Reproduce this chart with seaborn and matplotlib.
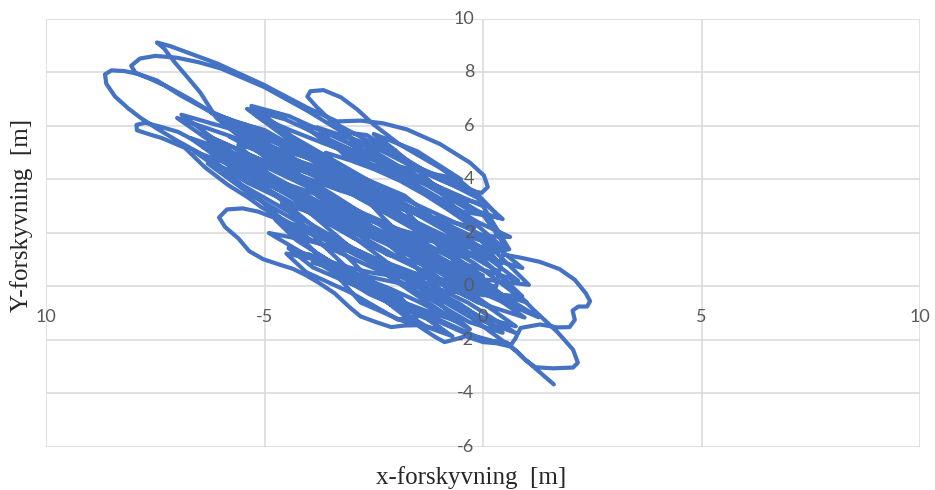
import pandas as pd
import seaborn as sns
import matplotlib.pyplot as plt

# displacement trace, in drawing order: (x [m], y [m])
tail_start = [
    (1.62, -3.66), (1.40, -3.35), (1.18, -3.04), (0.97, -2.74), (0.80, -2.46),
    (0.62, -2.24), (0.30, -2.12), (0.00, -2.08), (-0.40, -1.86), (-0.65, -1.98),
    (-0.88, -2.08), (-1.10, -1.88), (-1.50, -1.45), (-1.80, -1.46), (-2.10, -1.52),
    (-2.45, -1.33), (-2.80, -1.12), (-3.05, -0.78), (-3.40, -0.25), (-3.75, 0.13),
    (-4.05, 0.42), (-4.35, 0.66), (-4.70, 0.84), (-5.03, 1.02), (-5.35, 1.32),
    (-5.60, 1.80), (-5.90, 2.22), (-6.04, 2.58), (-5.86, 2.88), (-5.50, 2.92),
    (-5.15, 2.80), (-4.70, 2.52),
]
core_1 = [
    (-3.93, 1.74), (-2.13, 0.41), (-0.32, -1.33), (0.45, -1.73),
    (-0.56, -0.62), (-2.93, 1.19), (-5.29, 3.40), (-6.30, 4.60),
    (-5.22, 4.04), (-2.70, 2.10), (-0.18, -0.25), (0.90, -0.37),
    (-0.27, 1.43), (-3.00, 3.55), (-5.75, 6.09),
]
lobe_left = [
    (-6.93, 7.15), (-7.46, 7.70), (-7.90, 7.95), (-8.20, 8.05), (-8.50, 8.08),
    (-8.65, 7.93), (-8.62, 7.58), (-8.42, 7.10), (-8.12, 6.66), (-7.85, 6.32),
    (-7.46, 5.90), (-7.00, 5.45), (-6.50, 5.00),
]
core_2 = [
    (-5.38, 3.87), (-2.75, 1.84), (-0.13, -0.59), (0.95, -1.16),
    (-0.24, 0.20), (-3.03, 2.38), (-5.81, 4.94), (-7.00, 6.30),
    (-5.80, 5.63), (-3.00, 3.45), (-0.20, 0.87), (1.00, -0.60),
    (-0.21, 0.03), (-2.99, 2.19), (-5.77, 4.75),
]
lobe_low = [
    (-6.98, 5.78), (-7.40, 5.98), (-7.73, 6.12), (-7.93, 6.04), (-7.92, 5.84),
    (-7.62, 5.68), (-7.35, 5.55), (-6.82, 5.18), (-6.36, 4.45), (-5.84, 3.80),
    (-5.38, 3.33), (-5.06, 2.95),
]
core_3 = [
    (-4.21, 2.18), (-2.23, 0.70), (-0.25, -1.19), (0.60, -2.21),
    (-0.17, -1.86), (-1.98, -0.52), (-3.78, 1.21), (-4.55, 2.22),
    (-3.75, 1.89), (-1.90, 0.52), (-0.05, -1.26), (0.75, -1.74),
    (-0.35, -0.60), (-2.93, 1.39), (-5.50, 3.78), (-6.60, 5.04),
    (-5.42, 4.35), (-2.67, 2.22), (0.08, -0.32), (1.27, -1.15),
    (0.04, 0.07), (-2.82, 2.30), (-5.67, 4.92), (-6.90, 6.42),
    (-5.73, 5.87), (-3.00, 3.75), (-0.27, 1.23), (0.90, 0.69),
    (-0.03, 1.93), (-2.20, 3.57), (-4.37, 5.61), (-5.30, 6.75),
    (-4.44, 6.37), (-2.43, 4.87), (-0.41, 2.95), (0.45, 2.52),
    (-0.10, 3.29), (-1.30, 4.30), (-2.50, 5.33),
]
loop_top = [
    (-3.05, 5.80), (-3.45, 6.15), (-3.80, 6.70), (-4.02, 7.10), (-3.95, 7.30),
    (-3.65, 7.34), (-3.25, 7.07), (-2.88, 6.62), (-2.50, 6.05), (-1.90, 5.30),
    (-1.00, 4.45), (-0.45, 3.85), (-0.10, 3.35), (-0.03, 3.10),
]
core_4 = [
    (-0.60, 3.31), (-2.00, 4.30), (-3.40, 5.69), (-4.20, 6.12),
    (-3.48, 5.26), (-1.79, 4.02), (-0.10, 2.39), (0.62, 1.85),
    (-0.37, 1.91), (-2.69, 3.69), (-5.00, 5.85), (-6.00, 6.30),
    (-5.01, 5.06), (-2.70, 3.30), (-0.39, 1.13), (0.60, 1.39),
    (0.00, 3.00), (-1.50, 4.08), (-3.00, 5.55), (-4.00, 6.55),
]
lobe_top = [
    (-5.00, 7.45), (-6.00, 8.15), (-6.50, 8.38), (-7.00, 8.55), (-7.50, 8.62),
    (-7.85, 8.52), (-8.05, 8.25), (-7.95, 7.98), (-7.60, 7.75), (-7.20, 7.45),
    (-6.70, 7.00), (-6.10, 6.40),
]
core_5 = [
    (-5.07, 5.61), (-2.65, 3.75), (-0.24, 1.50), (0.80, 0.22),
    (-0.35, 0.80), (-2.60, 2.51), (-4.80, 4.58), (-6.10, 6.30),
]
tip_line = [
    (-6.47, 7.25), (-6.70, 7.70), (-7.05, 8.37), (-7.30, 8.90), (-7.46, 9.12),
    (-7.15, 8.98), (-6.09, 8.34), (-5.03, 7.55), (-4.03, 6.69), (-3.34, 6.17),
    (-2.80, 6.20), (-2.29, 6.10), (-1.74, 5.87), (-0.98, 5.32), (-0.30, 4.63),
    (0.02, 4.15), (0.11, 3.72), (-0.03, 3.50), (-0.45, 3.62), (-0.98, 3.98),
]
core_6 = [
    (-1.50, 4.38), (-2.60, 5.31), (-3.80, 5.95),
    (-3.16, 4.89), (-1.68, 3.83), (-0.19, 2.36), (0.45, 1.47),
    (-0.55, 1.97), (-2.88, 3.75), (-5.20, 5.92), (-6.20, 6.47),
    (-5.14, 5.27), (-2.65, 3.35), (-0.15, 1.03),
]
v_tail = [
    (0.30, 0.60), (0.75, -0.20), (1.15, -0.86), (1.70, -1.70), (2.06, -2.36),
    (2.17, -2.85), (2.06, -3.03), (1.60, -3.06), (1.20, -3.02), (0.95, -2.72),
    (0.78, -2.45), (0.55, -2.10),
]
core_7 = [
    (0.10, -2.02), (-0.40, -1.76), (-2.00, -0.60), (-3.60, 0.96), (-4.45, 1.43),
    (-3.89, 0.71), (-2.58, -0.21), (-1.26, -1.53), (-0.70, -1.86),
    (-1.27, -1.22), (-2.60, -0.29), (-3.93, 1.04), (-4.50, 1.23),
    (-4.05, 0.54), (-3.00, -0.25), (-1.95, -1.24), (-1.50, -1.13),
    (-1.99, -0.21), (-3.13, 0.56), (-4.26, 1.72), (-4.75, 2.49),
    (-3.93, 2.14), (-2.00, 0.70), (-0.08, -1.13), (0.75, -1.49),
    (-0.37, -0.19), (-2.98, 1.83), (-5.58, 4.24), (-6.70, 5.55),
    (-5.54, 4.91), (-2.83, 2.80), (-0.11, 0.29), (1.05, 0.06),
    (0.08, 1.63), (-2.18, 3.35), (-4.43, 5.47), (-5.40, 6.64),
    (-4.53, 6.25), (-2.50, 4.73), (-0.47, 2.80), (0.40, 2.56),
    (-0.20, 3.57), (-1.40, 4.39), (-2.66, 5.66), (-3.20, 5.77),
    (-2.64, 4.94), (-1.33, 4.03), (-0.01, 2.71), (0.55, 1.43),
    (-0.46, 1.49), (-2.83, 3.31), (-5.19, 5.51), (-6.20, 6.52),
    (-5.20, 5.82), (-2.80, 3.98), (-0.50, 1.83), (0.00, 1.42),
]
core_8 = [
    (-0.93, 2.32), (-1.87, 3.15), (-2.80, 3.86), (-3.73, 4.44), (-4.67, 4.90), (-5.60, 5.30),
    (-4.77, 3.98), (-3.93, 2.71), (-3.10, 1.55), (-2.27, 0.51), (-1.43, -0.43), (-0.60, -1.30),
    (-1.32, -0.90), (-2.03, -0.46), (-2.75, 0.05), (-3.47, 0.64), (-4.18, 1.30), (-4.90, 2.00),
    (-4.03, 1.72), (-3.17, 1.38), (-2.30, 0.95), (-1.43, 0.42), (-0.57, -0.22), (0.30, -0.90),
    (-0.35, -0.17), (-1.00, 0.63), (-1.65, 1.55), (-2.30, 2.60), (-2.95, 3.77), (-3.60, 5.00),
    (-3.03, 4.71), (-2.47, 4.37), (-1.90, 3.95), (-1.33, 3.43), (-0.77, 2.84), (-0.20, 2.20),
    (-1.23, 2.61), (-2.27, 3.07), (-3.30, 3.60), (-4.33, 4.23), (-5.37, 4.94), (-6.40, 5.70),
    (-5.50, 5.05), (-4.60, 4.34), (-3.70, 3.50), (-2.80, 2.54), (-1.90, 1.45), (-1.00, 0.30),
    (-1.50, 0.33), (-2.00, 0.38), (-2.50, 0.50), (-3.00, 0.68), (-3.50, 0.93), (-4.00, 1.20),
    (-3.48, 0.87), (-2.97, 0.51), (-2.45, 0.07), (-1.93, -0.44), (-1.42, -1.03), (-0.90, -1.65),
    (-1.85, -1.28), (-2.80, -0.60),
    (-3.33, 0.38), (-3.87, 1.33), (-4.40, 2.20), (-4.93, 2.99), (-5.47, 3.72), (-6.00, 4.40),
    (-4.89, 3.79), (-3.78, 3.12), (-2.68, 2.35), (-1.57, 1.46), (-0.46, 0.46), (0.65, -0.60),
    (-0.33, 0.72), (-1.30, 1.99), (-2.28, 3.20), (-3.25, 4.33), (-4.23, 5.38), (-5.20, 6.40),
    (-4.42, 5.85), (-3.63, 5.34), (-2.85, 4.90), (-2.07, 4.54), (-1.28, 4.25), (-0.50, 4.00),
    (-1.50, 5.05), (-2.50, 5.70),
    (-2.03, 5.12), (-1.57, 4.48), (-1.10, 3.75), (-0.63, 2.92), (-0.17, 1.98), (0.30, 1.00),
    (0.05, 1.35),
]
core_9 = [
    (-0.84, 1.68), (-1.73, 2.04), (-2.63, 2.48), (-3.52, 2.99), (-4.41, 3.58), (-5.30, 4.20),
    (-4.47, 3.41), (-3.63, 2.57), (-2.80, 1.65), (-1.97, 0.63), (-1.13, -0.46), (-0.30, -1.60),
    (-0.90, -1.06), (-1.50, -0.55), (-2.10, -0.10), (-2.70, 0.29), (-3.30, 0.61), (-3.90, 0.90),
    (-3.17, 0.58), (-2.43, 0.30), (-1.70, 0.05), (-0.97, -0.14), (-0.23, -0.28), (0.50, -0.40),
    (-0.35, 0.33), (-1.20, 1.03), (-2.05, 1.65), (-2.90, 2.19), (-3.75, 2.67), (-4.60, 3.10),
    (-4.10, 2.26), (-3.60, 1.45), (-3.10, 0.68), (-2.60, -0.04), (-2.10, -0.71), (-1.60, -1.35),
    (-2.37, -0.08), (-3.13, 1.15), (-3.90, 2.28), (-4.67, 3.30), (-5.43, 4.23), (-6.20, 5.10),
    (-5.47, 4.86), (-4.73, 4.59), (-4.00, 4.25), (-3.27, 3.85), (-2.53, 3.40), (-1.80, 2.90),
    (-1.13, 1.70), (-0.47, 0.66), (0.20, -0.20),
    (-1.00, 0.65), (-2.20, 1.20), (-3.20, 2.35), (-4.20, 3.30),
    (-3.50, 2.70), (-2.80, 2.11), (-2.10, 1.60), (-1.40, 1.15), (-0.70, 0.76), (0.00, 0.40),
]
core_10 = [
    (-0.80, 1.15), (-1.60, 1.86), (-2.40, 2.50), (-3.20, 3.06), (-4.00, 3.55), (-4.80, 4.00),
    (-4.20, 3.35), (-3.60, 2.74), (-3.00, 2.20), (-2.40, 1.74), (-1.80, 1.35), (-1.20, 1.00),
    (-1.97, 1.87), (-2.73, 2.70), (-3.50, 3.50), (-4.27, 4.24), (-5.03, 4.93), (-5.80, 5.60),
    (-4.80, 5.19), (-3.80, 4.70), (-2.80, 4.09), (-1.80, 3.40),
    (-1.10, 2.50), (-0.40, 1.40),
    (-1.25, 1.72), (-2.10, 2.15), (-2.95, 2.72), (-3.80, 3.40),
    (-3.05, 2.63), (-2.30, 1.75), (-1.55, 0.73), (-0.80, -0.40),
    (-1.70, 0.40), (-2.60, 0.90),
    (-1.15, 0.30), (0.30, 0.00),
]
tail_end = [
    (0.45, 1.20), (0.85, 1.08), (1.30, 0.92), (1.75, 0.65), (2.10, 0.25),
    (2.35, -0.25), (2.45, -0.55), (2.38, -0.75), (2.18, -0.75), (2.05, -0.90),
    (2.10, -1.25), (1.98, -1.52), (1.70, -1.53), (1.30, -1.42), (0.86, -1.55),
    (0.74, -1.95), (0.64, -2.18),
]

x_ticks = [-10, -5, 0, 5, 10]
x_tick_labels = ['10', '-5', '0', '5', '10']
y_ticks = [-6, -4, -2, 0, 2, 4, 6, 8, 10]

sections = [tail_start, core_1, lobe_left, core_2, lobe_low, core_3, loop_top,
            core_4, lobe_top, core_5, tip_line, core_6, v_tail, core_7, core_8,
            core_9, core_10, tail_end]
df = pd.DataFrame([p for s in sections for p in s], columns=['x', 'y'])

sns.set_theme(style='white')
plt.rcParams['font.family'] = ['Lato', 'DejaVu Sans']

fig = plt.figure(figsize=(9.35, 4.9), dpi=100)
ax = fig.add_axes([0.0492, 0.0878, 0.9348, 0.8735])

sns.lineplot(data=df, x='x', y='y', sort=False, estimator=None, ax=ax,
             color='#4472C4', linewidth=3.0, zorder=3)
for ln in ax.get_lines():
    ln.set_solid_joinstyle('round')
    ln.set_solid_capstyle('round')

ax.set_xlim(-10, 10)
ax.set_ylim(-6, 10)
ax.set_xticks(x_ticks)
ax.set_yticks(y_ticks)
ax.set_xticklabels([])
ax.set_yticklabels([])
ax.tick_params(length=0)
ax.grid(True, color='#d9d9d9', linewidth=1.1)
ax.set_axisbelow(True)
for sp in ax.spines.values():
    sp.set_visible(False)
ax.set_xlabel('')
ax.set_ylabel('')

# tick labels sit on the axes that cross at the origin, drawn over the trace
for v in y_ticks:
    ax.text(-0.2, v, str(v), ha='right', va='center', fontsize=13,
            color='#595959', zorder=5)
for v, lab in zip(x_ticks, x_tick_labels):
    ax.text(v, -1.15, lab, ha='center', va='center', fontsize=13,
            color='#595959', zorder=5)

fig.text(471 / 935, 1 - 478 / 490, 'x-forskyvning  [m]', ha='center', va='center',
         fontsize=18, family='Liberation Serif')
fig.text(22 / 935, 1 - 215 / 490, 'Y-forskyvning  [m]', ha='center', va='center',
         rotation=90, fontsize=18, family='Liberation Serif')

fig.savefig('out.png', dpi=100)
